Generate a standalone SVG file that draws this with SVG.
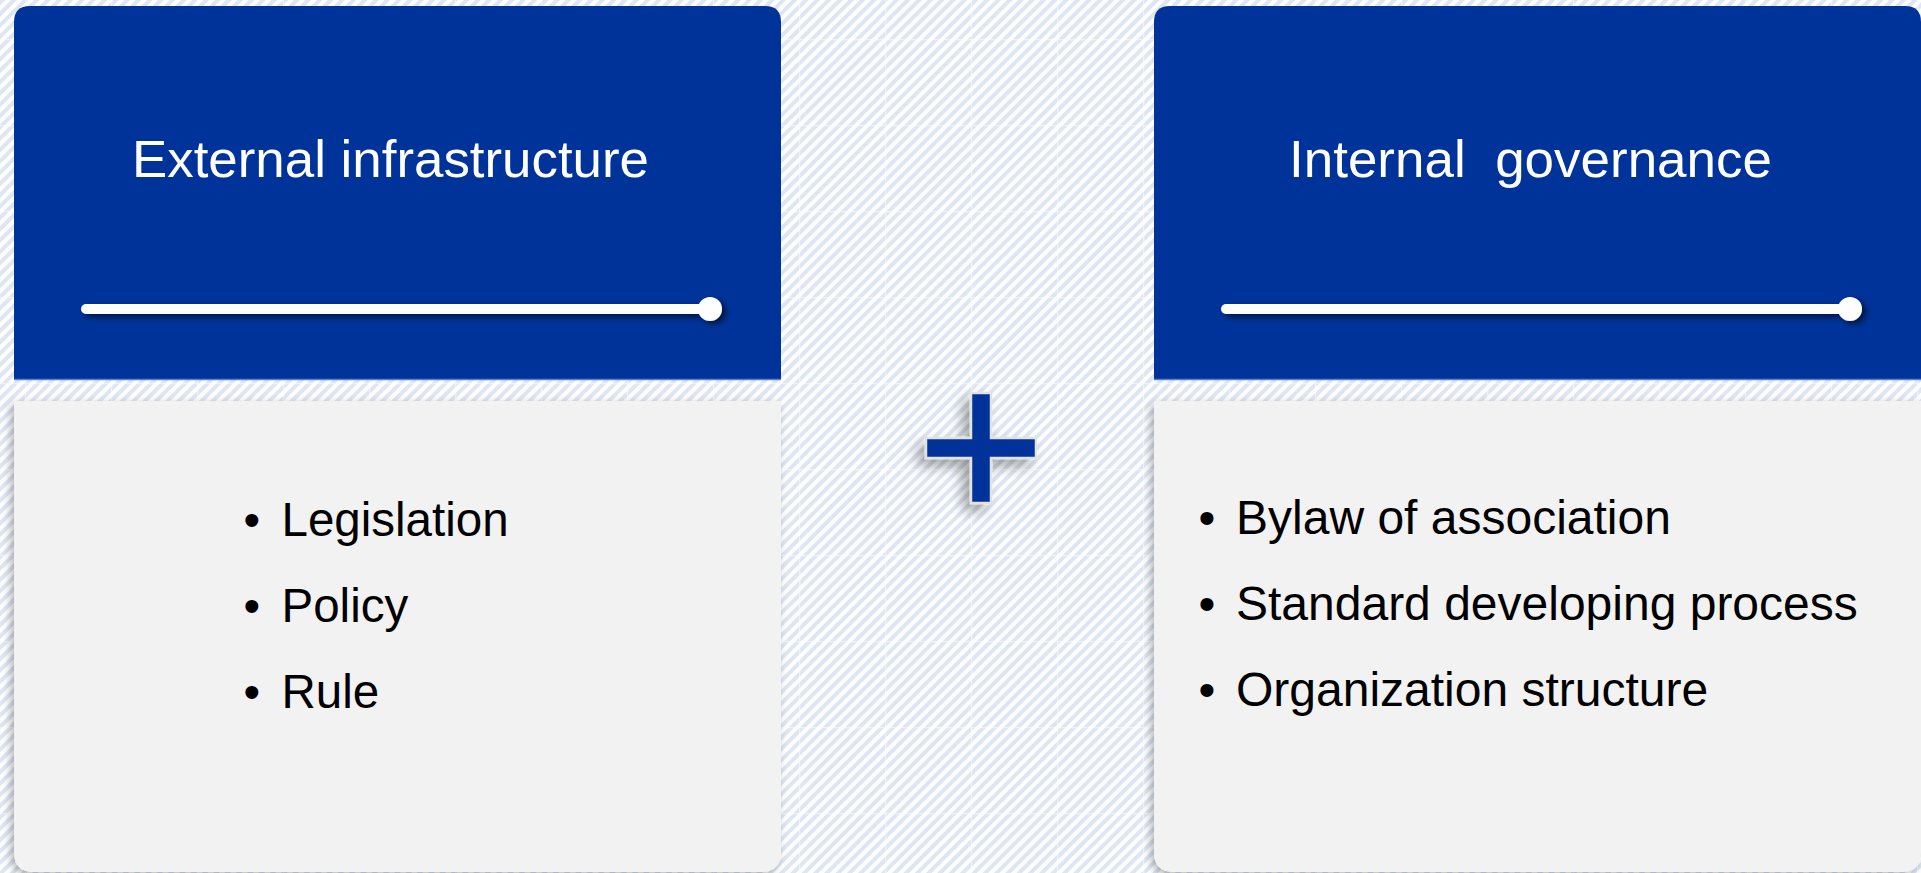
<svg xmlns="http://www.w3.org/2000/svg" width="1921" height="873" viewBox="0 0 1921 873">
<style>
.title{font-family:"Liberation Sans",Arial,sans-serif;font-size:52px;fill:#ffffff;white-space:pre}
.item{font-family:"Liberation Sans",Arial,sans-serif;font-size:47.5px;fill:#000000}
.itemr{font-family:"Liberation Sans",Arial,sans-serif;font-size:48px;fill:#000000}
.head{fill:#003399}
.body{fill:#f2f2f2}
.bar{stroke:#ffffff;stroke-width:10;stroke-linecap:round;fill:none}
.dot{fill:#ffffff}
.edge{stroke:#5a7fd0;stroke-width:1.5}
</style>
<defs>
<pattern id="stripes" width="8" height="8" patternUnits="userSpaceOnUse" patternTransform="rotate(45)">
<rect width="8" height="8" fill="#ffffff"/>
<rect width="4" height="8" fill="#dde6f2"/>
</pattern>
<pattern id="grid" width="86" height="86" patternUnits="userSpaceOnUse" x="25" y="39">
<path d="M0 0.5H86M0.5 0V86" stroke="#ffffff" stroke-width="1.5" stroke-opacity="0.5" fill="none"/>
</pattern>
<filter id="sh" x="-10%" y="-10%" width="120%" height="120%">
<feGaussianBlur in="SourceAlpha" stdDeviation="5"/>
<feOffset dx="-3" dy="3" result="b"/>
<feComponentTransfer><feFuncA type="linear" slope="0.3"/></feComponentTransfer>
<feMerge><feMergeNode/><feMergeNode in="SourceGraphic"/></feMerge>
</filter>
<filter id="dsh" x="-50%" y="-50%" width="220%" height="220%">
<feGaussianBlur in="SourceAlpha" stdDeviation="3"/>
<feOffset dx="4" dy="3"/>
<feComponentTransfer><feFuncA type="linear" slope="0.6"/></feComponentTransfer>
<feMerge><feMergeNode/><feMergeNode in="SourceGraphic"/></feMerge>
</filter>
<filter id="psh" x="-40%" y="-40%" width="180%" height="180%">
<feGaussianBlur in="SourceAlpha" stdDeviation="7"/>
<feOffset dx="-7" dy="7"/>
<feComponentTransfer><feFuncA type="linear" slope="0.35"/></feComponentTransfer>
<feMerge><feMergeNode/><feMergeNode in="SourceGraphic"/></feMerge>
</filter>
</defs>
<rect width="1921" height="873" fill="url(#stripes)"/>
<rect width="1921" height="873" fill="url(#grid)"/>

<g id="external-infrastructure">
<path class="head" d="M30 6H765Q781 6 781 22V379H14V22Q14 6 30 6Z"/>
<line class="edge" x1="14" y1="379.5" x2="781" y2="379.5"/>
<text class="title" x="132" y="177" textLength="517" lengthAdjust="spacingAndGlyphs">External infrastructure</text>
<g filter="url(#dsh)">
<line class="bar" x1="86" y1="309" x2="705" y2="309"/>
<circle class="dot" cx="710" cy="309" r="12"/>
</g>
<path class="body" filter="url(#sh)" d="M14 401H781V852Q781 872 761 872H34Q14 872 14 852Z"/>
<text class="item" x="251.7" y="535.5" text-anchor="middle">•</text>
<text class="item" x="281.5" y="535.5">Legislation</text>
<text class="item" x="251.7" y="621.5" text-anchor="middle">•</text>
<text class="item" x="281.5" y="621.5">Policy</text>
<text class="item" x="251.7" y="707.5" text-anchor="middle">•</text>
<text class="item" x="281.5" y="707.5">Rule</text>
</g>

<g id="plus" filter="url(#psh)">
<path d="M971 393H991V438H1036V458H991V503H971V458H926V438H971Z" fill="#003399" stroke="#e2e2e2" stroke-width="2.5" stroke-linejoin="miter"/>
</g>

<g id="internal-governance">
<path class="head" d="M1170 6H1905Q1921 6 1921 22V379H1154V22Q1154 6 1170 6Z"/>
<line class="edge" x1="1154" y1="379.5" x2="1921" y2="379.5"/>
<text class="title" x="1289" y="177" textLength="483" lengthAdjust="spacingAndGlyphs" xml:space="preserve">Internal  governance</text>
<g filter="url(#dsh)">
<line class="bar" x1="1226" y1="309" x2="1845" y2="309"/>
<circle class="dot" cx="1850" cy="309" r="12"/>
</g>
<path class="body" filter="url(#sh)" d="M1154 401H1921V852Q1921 872 1901 872H1174Q1154 872 1154 852Z"/>
<text class="itemr" x="1207" y="533.5" text-anchor="middle">•</text>
<text class="itemr" x="1236" y="533.5">Bylaw of association</text>
<text class="itemr" x="1207" y="619.5" text-anchor="middle">•</text>
<text class="itemr" x="1236" y="619.5">Standard developing process</text>
<text class="itemr" x="1207" y="705.5" text-anchor="middle">•</text>
<text class="itemr" x="1236" y="705.5">Organization structure</text>
</g>

<g id="connectors"/>
</svg>
